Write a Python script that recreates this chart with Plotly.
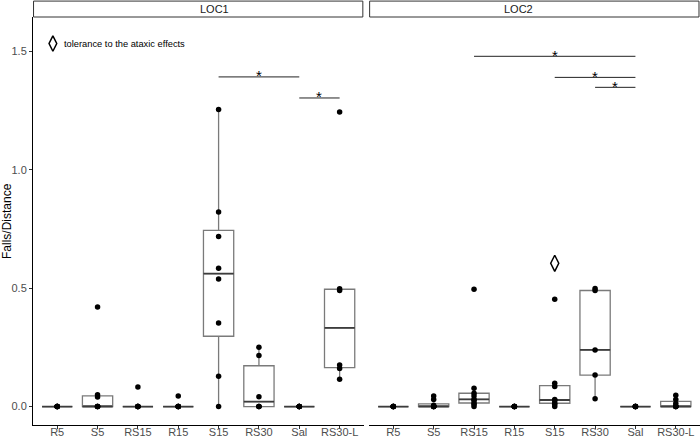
import numpy as np
import plotly.graph_objects as go

# groups on the x axis
cats = ["R5", "S5", "RS15", "R15", "S15", "RS30", "Sal", "RS30-L"]
panels = ["LOC1", "LOC2"]

# falls/distance per animal, one list per group (same order as cats)
loc1_values = [
    [0, 0, 0, 0, 0, 0],
    [0, 0, 0, 0, 0.04, 0.05, 0.42],
    [0, 0, 0, 0, 0, 0.082],
    [0, 0, 0, 0, 0, 0.044],
    [0, 0.128, 0.353, 0.539, 0.584, 0.718, 0.822, 1.254],
    [0, 0, 0, 0.041, 0.216, 0.25],
    [0, 0, 0, 0, 0, 0],
    [0.115, 0.161, 0.175, 0.49, 0.497, 1.244],
]
loc2_values = [
    [0, 0, 0, 0, 0, 0],
    [0, 0, 0, 0, 0, 0.005, 0.03, 0.044],
    [0, 0.01, 0.015, 0.027, 0.03, 0.044, 0.056, 0.077, 0.495],
    [0, 0, 0, 0, 0, 0],
    [0, 0.01, 0.015, 0.025, 0.03, 0.085, 0.098, 0.453],
    [0.033, 0.133, 0.239, 0.49, 0.498],
    [0, 0, 0, 0, 0, 0],
    [0, 0, 0, 0, 0.013, 0.03, 0.048],
]

# significance brackets: panel, from group, to group, height
sig_panel = ["LOC1", "LOC1", "LOC2", "LOC2", "LOC2"]
sig_from = ["S15", "Sal", "RS15", "S15", "RS30"]
sig_to = ["Sal", "RS30-L", "Sal", "Sal", "Sal"]
sig_y = [1.392, 1.303, 1.479, 1.39, 1.348]

# tolerance marker (diamond)
tol_panel = ["LOC2"]
tol_cat = ["S15"]
tol_y = [0.605]

BOX = "#7a7a7a"
MED = "#3c3c3c"
FONT = "Liberation Sans, Arial, sans-serif"

fig = go.Figure()
axes = {"LOC1": "x", "LOC2": "x2"}


def box_stats(v):
    v = np.array(v, dtype=float)
    q1, med, q3 = np.percentile(v, [25, 50, 75])
    iqr = q3 - q1
    lo = v[v >= q1 - 1.5 * iqr].min()
    hi = v[v <= q3 + 1.5 * iqr].max()
    return q1, med, q3, lo, hi


for panel, values in zip(panels, [loc1_values, loc2_values]):
    xa = axes[panel]
    for i, v in enumerate(values):
        q1, med, q3, lo, hi = box_stats(v)
        fig.add_trace(go.Box(x=[i], q1=[q1], median=[med], q3=[q3],
                             lowerfence=[lo], upperfence=[hi], width=0.75,
                             whiskerwidth=0, fillcolor="white",
                             line=dict(color=BOX, width=1.3),
                             boxpoints=False, showlegend=False,
                             hoverinfo="skip", xaxis=xa, yaxis="y"))
        # darker, thicker median line on top
        fig.add_trace(go.Box(x=[i], q1=[med], median=[med], q3=[med],
                             lowerfence=[med], upperfence=[med], width=0.75,
                             whiskerwidth=0, fillcolor="rgba(0,0,0,0)",
                             line=dict(color=MED, width=1.8),
                             boxpoints=False, showlegend=False,
                             hoverinfo="skip", xaxis=xa, yaxis="y"))
        fig.add_trace(go.Scatter(x=[i] * len(v), y=v, mode="markers",
                                 marker=dict(color="black", size=5.5),
                                 showlegend=False, xaxis=xa, yaxis="y"))

# tolerance diamonds
for p, c, y in zip(tol_panel, tol_cat, tol_y):
    fig.add_trace(go.Scatter(x=[cats.index(c)], y=[y], mode="markers",
                             marker=dict(symbol="diamond-tall-open", size=11.5,
                                         color="black", line=dict(width=1.5)),
                             showlegend=False, xaxis=axes[p], yaxis="y"))

# key in the top-left corner
fig.add_trace(go.Scatter(x=[-0.107], y=[1.533], mode="markers",
                         marker=dict(symbol="diamond-tall-open", size=11,
                                     color="black", line=dict(width=1.5)),
                         showlegend=False, xaxis="x", yaxis="y"))
fig.add_annotation(x=0.12, y=1.533, xref="x", yref="y", xanchor="left",
                   text="tolerance to the ataxic effects", showarrow=False,
                   font=dict(size=9.3, color="black", family=FONT))

# significance bars
for p, a, b, y in zip(sig_panel, sig_from, sig_to, sig_y):
    xa = axes[p]
    x0, x1 = cats.index(a), cats.index(b)
    fig.add_shape(type="line", x0=x0, x1=x1, y0=y, y1=y, xref=xa, yref="y",
                  line=dict(color="#222", width=1))
    fig.add_annotation(x=(x0 + x1) / 2, y=y, xref=xa, yref="y", text="*",
                       showarrow=False, yanchor="middle", yshift=1,
                       font=dict(size=15, color="black", family=FONT))

# facet strips
doms = {"LOC1": [0, 0.496], "LOC2": [0.5039, 1]}
for p in panels:
    d = doms[p]
    fig.add_shape(type="rect", xref="paper", yref="paper", x0=d[0] + 0.0008,
                  x1=d[1] - 0.0015, y0=1.0, y1=1.039,
                  line=dict(color="#333", width=1), fillcolor="white")
    fig.add_annotation(x=(d[0] + d[1]) / 2, y=1.0195, xref="paper", yref="paper",
                       text=p, showarrow=False, yanchor="middle",
                       font=dict(size=11, color="#1a1a1a", family=FONT))

fig.add_annotation(x=-0.039, y=0.5, xref="paper", yref="paper", text="Falls/Distance",
                   textangle=-90, showarrow=False, xanchor="center",
                   font=dict(size=12, color="black", family=FONT))

xcommon = dict(range=[-0.6, 7.6], tickvals=list(range(len(cats))), ticktext=cats,
               showgrid=False, zeroline=False, showline=True, linecolor="black",
               linewidth=1, ticks="outside", ticklen=3, tickcolor="#333",
               ticklabelstandoff=-6,
               tickfont=dict(size=11, color="#4d4d4d", family=FONT), anchor="y")

fig.update_layout(
    width=700, height=438, template="none",
    margin=dict(l=33, r=0, t=17, b=13),
    plot_bgcolor="white", paper_bgcolor="white",
    xaxis=dict(domain=doms["LOC1"], **xcommon),
    xaxis2=dict(domain=doms["LOC2"], **xcommon),
    yaxis=dict(range=[-0.078, 1.645], tickvals=[0, 0.5, 1, 1.5],
               ticktext=["0.0", "0.5", "1.0", "1.5"], showgrid=False,
               zeroline=False, showline=True, linecolor="black", linewidth=1,
               ticks="outside", ticklen=3, tickcolor="#333",
               tickfont=dict(size=11, color="#4d4d4d", family=FONT)),
    font=dict(family=FONT),
)

# page has a default 8px body margin; drop it so the figure fills the window
fig.write_html("out.html", config={"displayModeBar": False},
               post_script="document.body.style.margin='0px';")
